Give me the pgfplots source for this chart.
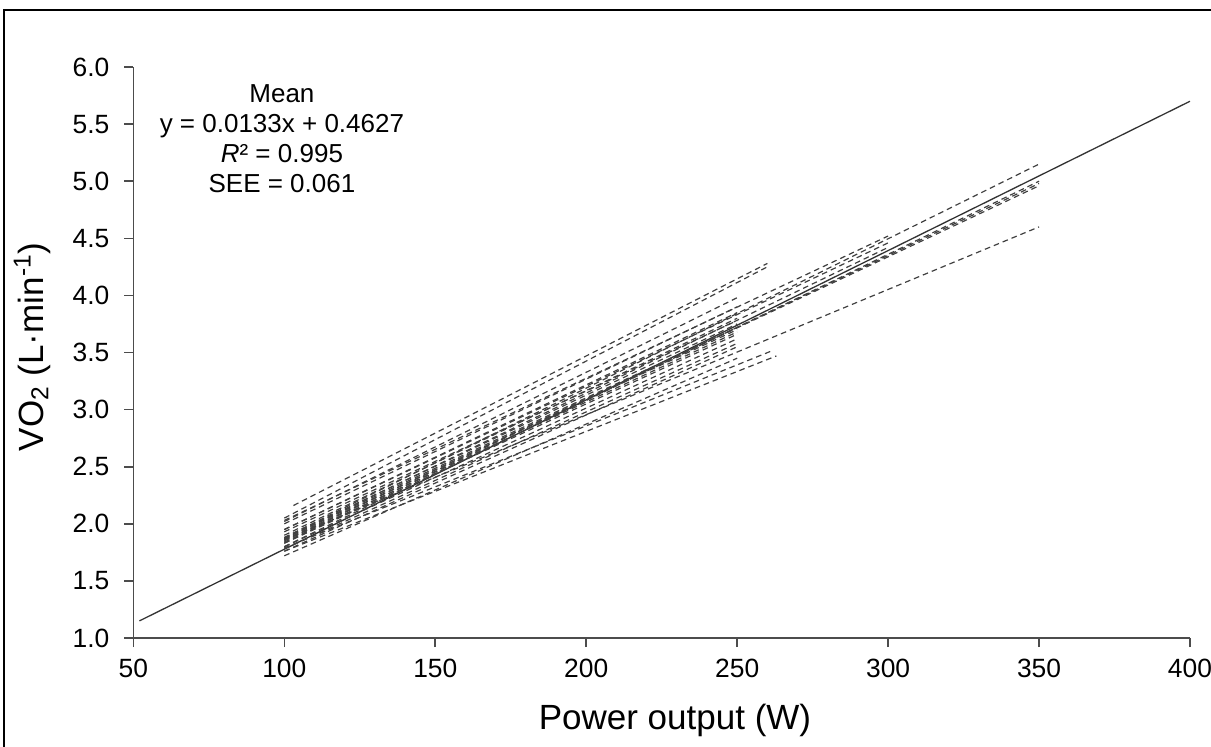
\documentclass[border=0pt]{standalone}
\usepackage{fontspec}
\setmainfont{Liberation Sans}
\usepackage{pgfplots}
\pgfplotsset{compat=1.18}
\begin{document}
\begin{tikzpicture}[x=1pt,y=1pt]
\useasboundingbox (0,0) rectangle (605.5,373);
\draw[line width=1.3pt] (2,-2) -- (2,368) -- (610,368);
\begin{axis}[
  at={(66.7pt,54pt)}, anchor=south west,
  scale only axis, width=528.3pt, height=285.5pt,
  xmin=50, xmax=400, ymin=1, ymax=6,
  axis x line=bottom, axis y line=left,
  axis line style={-, line width=0.8pt, color=black!70},
  xtick={50,100,...,400}, ytick={1,1.5,...,6},
  tick style={line width=0.8pt, color=black!70},
  major tick length=4.5pt, tick align=outside,
  ticklabel style={font=\fontsize{13.2}{15}\selectfont},
  yticklabel style={/pgf/number format/.cd, fixed, fixed zerofill, precision=1, /tikz/xshift=-4pt},
  xticklabel style={/pgf/number format/.cd, fixed, precision=0, /tikz/yshift=-2.5pt},
  /pgf/number format/assume math mode=true,
  xlabel={Power output (W)},
  ylabel={VO\textsubscript{2} (L·min\textsuperscript{-1})},
  label style={font=\fontsize{17.5}{20}\selectfont},
  xlabel style={at={(axis description cs:0.5126,0)}, anchor=center, yshift=-41pt},
  ylabel style={at={(axis description cs:-0.096,0.51)}, anchor=center},
  clip=false,
]
\pgfplotsset{subj/.style={line width=0.6pt, color=black!75, dash pattern=on 2.8pt off 2.0pt}}
% mean line
\addplot[black!80, line width=0.65pt] coordinates {(52,1.15) (400,5.70)};
% subjects ending at 350 W
\addplot[subj] coordinates {(100,1.88) (350,5.15)};
\addplot[subj] coordinates {(100,1.80) (350,5.00)};
\addplot[subj] coordinates {(100,1.83) (350,4.98)};
\addplot[subj] coordinates {(100,1.85) (350,4.96)};
\addplot[subj] coordinates {(100,1.86) (350,4.60)};
% ending at 300 W
\addplot[subj] coordinates {(100,2.03) (300,4.52)};
\addplot[subj] coordinates {(100,1.95) (300,4.46)};
\addplot[subj] coordinates {(100,1.87) (300,4.42)};
% ending at 260 W
\addplot[subj] coordinates {(103,2.16) (260,4.28)};
\addplot[subj] coordinates {(100,2.05) (260,4.25)};
% ending at 263 W
\addplot[subj] coordinates {(100,1.76) (263,3.47)};
\addplot[subj] coordinates {(100,1.79) (262,3.52)};
% ending at 250 W
\addplot[subj] coordinates {(100,2.02) (250,3.98)};
\addplot[subj] coordinates {(100,2.00) (250,3.90)};
\addplot[subj] coordinates {(100,1.95) (250,3.85)};
\addplot[subj] coordinates {(100,1.90) (250,3.80)};
\addplot[subj] coordinates {(100,1.93) (250,3.78)};
\addplot[subj] coordinates {(100,1.88) (250,3.75)};
\addplot[subj] coordinates {(100,1.87) (250,3.72)};
\addplot[subj] coordinates {(100,1.86) (250,3.70)};
\addplot[subj] coordinates {(100,1.84) (250,3.68)};
\addplot[subj] coordinates {(100,1.83) (250,3.66)};
\addplot[subj] coordinates {(100,1.80) (250,3.62)};
\addplot[subj] coordinates {(100,1.78) (250,3.58)};
\addplot[subj] coordinates {(100,1.76) (250,3.55)};
\addplot[subj] coordinates {(100,1.72) (250,3.45)};
\node[align=center, font=\fontsize{13}{15}\selectfont] at (axis cs:99.2,5.37)
  {Mean\\y = 0.0133x + 0.4627\\\textit{R}² = 0.995\\SEE = 0.061};
\end{axis}
\end{tikzpicture}
\end{document}
